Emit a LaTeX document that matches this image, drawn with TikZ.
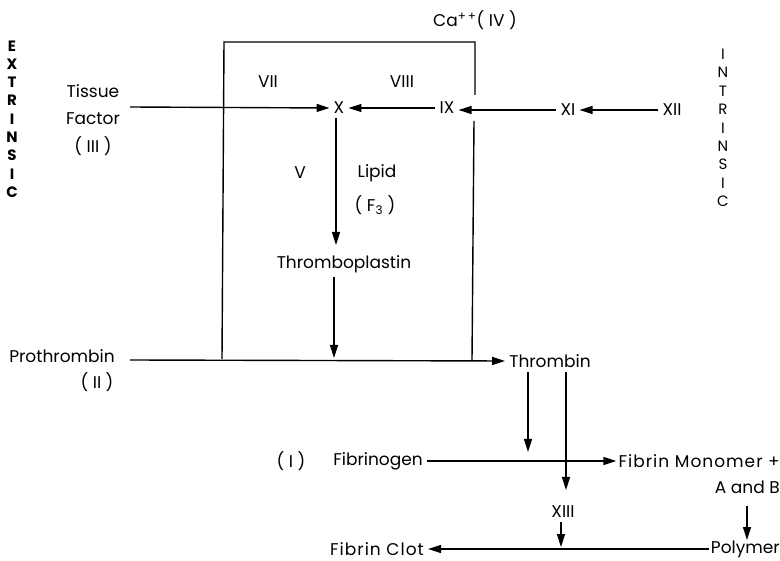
\documentclass[tikz,border=0pt]{standalone}
\usepackage{fontspec}
\setmainfont{Poppins}
\usetikzlibrary{arrows.meta}
\tikzset{
  lbl/.style={inner sep=4pt, font=\fontsize{17}{27.5}\selectfont},
  vert/.style={inner sep=0pt, align=center, font=\fontsize{15}{18.4}\selectfont},
  conn/.style={line width=1.4pt, -{Triangle[length=13pt,width=8pt]}},
  plain/.style={line width=1.4pt}
}
\begin{document}
\begin{tikzpicture}[x=1pt,y=-1pt]
\useasboundingbox (0,0) rectangle (780,561);
% side labels
\node[vert, font=\fontsize{15}{18.3}\selectfont\bfseries] (ext) at (12,119) {E\\X\\T\\R\\I\\N\\S\\I\\C};
\node[vert] (intr) at (723,128) {I\\N\\T\\R\\I\\N\\S\\I\\C};
% box
\coordinate (bTL) at (224,42);
\coordinate (bTR) at (475,42);
\coordinate (bBL) at (222,359);
\coordinate (bBR) at (472,360);
\coordinate (gapA) at (475,95);
\coordinate (gapB) at (474,121);
\draw[plain] (bBL) -- (bTL) -- (bTR) -- (gapA);
\draw[plain] (gapB) -- (bBR);
\node[lbl] (ca) at (475,20) {Ca\textsuperscript{+\,+}( IV )};
% factors
\node[lbl, align=center] (tf) at (93,120) {Tissue\\Factor\\( III )};
\coordinate (tfa) at (130,107);
\node[lbl] (X) at (339,108) {X};
\node[lbl] (IX) at (447,108) {IX};
\node[lbl] (XI) at (568,110) {XI};
\node[lbl] (XII) at (672,110) {XII};
\node[lbl] (VII) at (268,82) {VII};
\node[lbl] (VIII) at (402,82) {VIII};
\node[lbl] (V) at (300,173) {V};
\node[lbl] (lip) at (377,173) {Lipid};
\node[lbl] (f3) at (375,205) {( F\textsubscript{3} )};
\node[lbl] (tp) at (344,264) {Thromboplastin};
\draw[conn] (tfa) -- (X.west);
\draw[conn] (IX.west) -- (X.east);
\draw[conn] (XI.west) -- (IX.east |- XI.west);
\draw[conn] (XII.west) -- (XI.east);
\draw[conn] (X.south -| 336,0) -- (336,245);
% prothrombin
\node[lbl] (pro) at (62,356) {Prothrombin};
\node[lbl] (pii) at (97,382) {( II )};
\node[lbl] (thr) at (550,361) {Thrombin};
\coordinate (proa) at (130,360);
\draw[conn] (proa) -- (thr.west);
\coordinate (tpend) at (334,358);
\draw[conn] (tp.south -| tpend) -- (tpend);
% fibrinogen
\node[lbl] (one) at (291,461) {( I )};
\node[lbl] (fib) at (378,461) {Fibrinogen};
\node[lbl, anchor=east, inner sep=0pt, font=\fontsize{17}{27.5}\selectfont\addfontfeatures{LetterSpace=6}] (fm) at (780,461) {Fibrin Monomer +};
\node[lbl, anchor=east, inner sep=0pt] (ab) at (780,487) {A and B};
\coordinate (tha) at (528,372);
\coordinate (thae) at (528,452);
\coordinate (thb) at (566,372);
\coordinate (thbe) at (566,490);
\draw[conn] (tha) -- (thae);
\draw[conn] (thb) -- (thbe);
\draw[conn] (fib.east) -- ([xshift=-2pt]fm.west);
% bottom
\node[lbl] (xiii) at (563,512) {XIII};
\node[lbl, anchor=east, inner sep=0pt] (poly) at (780,549) {Polymer};
\node[lbl, font=\fontsize{17}{27.5}\selectfont\addfontfeatures{LetterSpace=6}] (clot) at (377,549) {Fibrin Clot};
\draw[conn] (xiii.south -| 561,0) -- (561,547);
\draw[conn] (ab.south -| 747,0) ++(0,12) -- (747,540);
\draw[conn] ([xshift=-2pt]poly.west) -- (clot.east);
\end{tikzpicture}
\end{document}
